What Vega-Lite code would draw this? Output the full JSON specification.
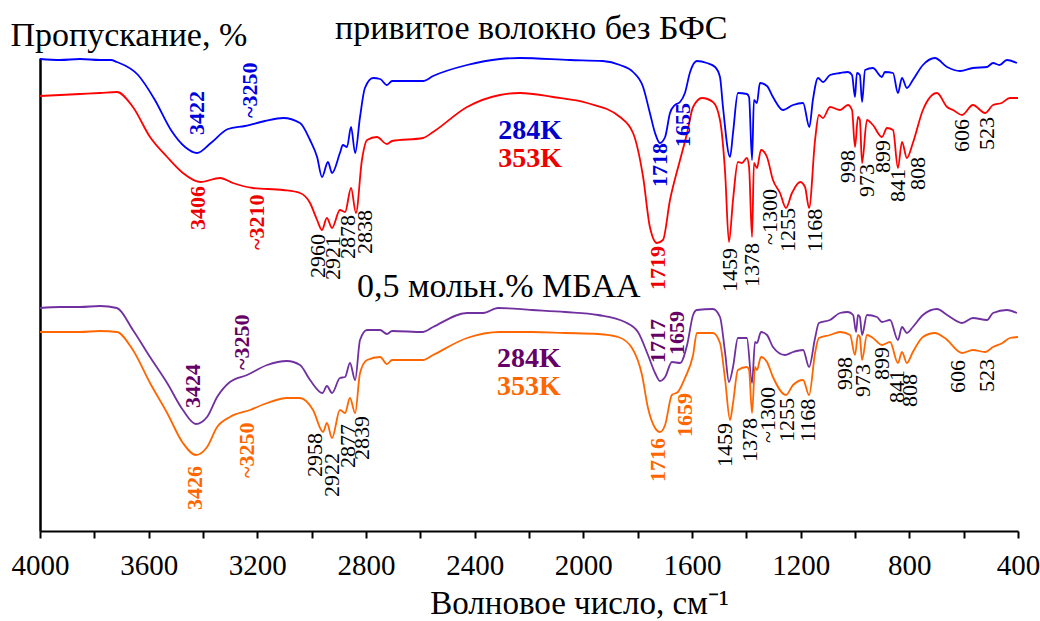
{
"$schema": "https://vega.github.io/schema/vega-lite/v6.json",
"width": 978, "height": 473,
"autosize": {"type": "none"},
"padding": {"left": 40, "top": 58, "right": 22, "bottom": 90},
"background": "white",
"config": {"view": {"stroke": null}, "font": "Times New Roman, Liberation Serif, serif"},
"resolve": {"scale": {"color": "independent"}},
"datasets": {
"spec": [
{"s":"b","wn":4000,"T":472},{"s":"b","wn":3926,"T":471},{"s":"b","wn":3853,"T":472},{"s":"b","wn":3779,"T":471},{"s":"b","wn":3739,"T":471},{"s":"b","wn":3717,"T":469},{"s":"b","wn":3639,"T":456},{"s":"b","wn":3577,"T":431},{"s":"b","wn":3518,"T":401},{"s":"b","wn":3466,"T":384},{"s":"b","wn":3422,"T":378},{"s":"b","wn":3371,"T":388},{"s":"b","wn":3308,"T":402},{"s":"b","wn":3245,"T":405},{"s":"b","wn":3172,"T":410},{"s":"b","wn":3105,"T":413},{"s":"b","wn":3043,"T":408},{"s":"b","wn":3006,"T":391},{"s":"b","wn":2980,"T":374},{"s":"b","wn":2962,"T":354},{"s":"b","wn":2940,"T":369},{"s":"b","wn":2925,"T":358},{"s":"b","wn":2896,"T":378},{"s":"b","wn":2885,"T":386},{"s":"b","wn":2870,"T":384},{"s":"b","wn":2855,"T":404},{"s":"b","wn":2840,"T":378},{"s":"b","wn":2822,"T":414},{"s":"b","wn":2804,"T":443},{"s":"b","wn":2774,"T":453},{"s":"b","wn":2748,"T":452},{"s":"b","wn":2723,"T":446},{"s":"b","wn":2704,"T":450},{"s":"b","wn":2590,"T":450},{"s":"b","wn":2553,"T":455},{"s":"b","wn":2428,"T":466},{"s":"b","wn":2307,"T":472},{"s":"b","wn":2233,"T":473},{"s":"b","wn":2049,"T":471},{"s":"b","wn":1928,"T":470},{"s":"b","wn":1865,"T":466},{"s":"b","wn":1817,"T":459},{"s":"b","wn":1780,"T":444},{"s":"b","wn":1755,"T":418},{"s":"b","wn":1736,"T":398},{"s":"b","wn":1718,"T":388},{"s":"b","wn":1699,"T":394},{"s":"b","wn":1681,"T":418},{"s":"b","wn":1663,"T":426},{"s":"b","wn":1644,"T":429},{"s":"b","wn":1626,"T":438},{"s":"b","wn":1607,"T":459},{"s":"b","wn":1582,"T":470},{"s":"b","wn":1545,"T":468},{"s":"b","wn":1515,"T":464},{"s":"b","wn":1497,"T":454},{"s":"b","wn":1486,"T":424},{"s":"b","wn":1460,"T":374},{"s":"b","wn":1449,"T":398},{"s":"b","wn":1431,"T":438},{"s":"b","wn":1398,"T":437},{"s":"b","wn":1390,"T":434},{"s":"b","wn":1379,"T":371},{"s":"b","wn":1372,"T":431},{"s":"b","wn":1361,"T":428},{"s":"b","wn":1350,"T":448},{"s":"b","wn":1324,"T":445},{"s":"b","wn":1302,"T":434},{"s":"b","wn":1265,"T":421},{"s":"b","wn":1228,"T":426},{"s":"b","wn":1191,"T":428},{"s":"b","wn":1168,"T":404},{"s":"b","wn":1155,"T":431},{"s":"b","wn":1136,"T":453},{"s":"b","wn":1118,"T":449},{"s":"b","wn":1092,"T":456},{"s":"b","wn":1055,"T":458},{"s":"b","wn":1026,"T":459},{"s":"b","wn":1011,"T":456},{"s":"b","wn":1000,"T":434},{"s":"b","wn":993,"T":458},{"s":"b","wn":982,"T":456},{"s":"b","wn":974,"T":429},{"s":"b","wn":963,"T":461},{"s":"b","wn":934,"T":463},{"s":"b","wn":901,"T":454},{"s":"b","wn":890,"T":459},{"s":"b","wn":860,"T":458},{"s":"b","wn":842,"T":438},{"s":"b","wn":827,"T":453},{"s":"b","wn":809,"T":443},{"s":"b","wn":787,"T":451},{"s":"b","wn":750,"T":466},{"s":"b","wn":706,"T":473},{"s":"b","wn":661,"T":464},{"s":"b","wn":613,"T":460},{"s":"b","wn":566,"T":463},{"s":"b","wn":514,"T":464},{"s":"b","wn":492,"T":468},{"s":"b","wn":468,"T":466},{"s":"b","wn":441,"T":471},{"s":"b","wn":404,"T":468},
{"s":"r","wn":4000,"T":435},{"s":"r","wn":3926,"T":436},{"s":"r","wn":3853,"T":437},{"s":"r","wn":3779,"T":438},{"s":"r","wn":3717,"T":439},{"s":"r","wn":3658,"T":424},{"s":"r","wn":3595,"T":394},{"s":"r","wn":3532,"T":374},{"s":"r","wn":3474,"T":358},{"s":"r","wn":3410,"T":349},{"s":"r","wn":3337,"T":353},{"s":"r","wn":3290,"T":348},{"s":"r","wn":3216,"T":343},{"s":"r","wn":3105,"T":341},{"s":"r","wn":3043,"T":338},{"s":"r","wn":3006,"T":328},{"s":"r","wn":2980,"T":311},{"s":"r","wn":2962,"T":301},{"s":"r","wn":2944,"T":313},{"s":"r","wn":2925,"T":303},{"s":"r","wn":2896,"T":321},{"s":"r","wn":2877,"T":319},{"s":"r","wn":2855,"T":343},{"s":"r","wn":2837,"T":318},{"s":"r","wn":2815,"T":371},{"s":"r","wn":2796,"T":391},{"s":"r","wn":2760,"T":394},{"s":"r","wn":2723,"T":387},{"s":"r","wn":2704,"T":390},{"s":"r","wn":2590,"T":393},{"s":"r","wn":2553,"T":399},{"s":"r","wn":2428,"T":424},{"s":"r","wn":2307,"T":436},{"s":"r","wn":2233,"T":438},{"s":"r","wn":2112,"T":434},{"s":"r","wn":1986,"T":428},{"s":"r","wn":1865,"T":414},{"s":"r","wn":1817,"T":398},{"s":"r","wn":1780,"T":354},{"s":"r","wn":1755,"T":304},{"s":"r","wn":1729,"T":288},{"s":"r","wn":1707,"T":291},{"s":"r","wn":1681,"T":331},{"s":"r","wn":1644,"T":371},{"s":"r","wn":1618,"T":398},{"s":"r","wn":1596,"T":424},{"s":"r","wn":1563,"T":433},{"s":"r","wn":1523,"T":429},{"s":"r","wn":1497,"T":411},{"s":"r","wn":1478,"T":358},{"s":"r","wn":1464,"T":289},{"s":"r","wn":1449,"T":331},{"s":"r","wn":1431,"T":369},{"s":"r","wn":1416,"T":368},{"s":"r","wn":1398,"T":373},{"s":"r","wn":1390,"T":364},{"s":"r","wn":1379,"T":294},{"s":"r","wn":1372,"T":368},{"s":"r","wn":1361,"T":363},{"s":"r","wn":1346,"T":381},{"s":"r","wn":1324,"T":374},{"s":"r","wn":1302,"T":351},{"s":"r","wn":1276,"T":338},{"s":"r","wn":1254,"T":323},{"s":"r","wn":1232,"T":338},{"s":"r","wn":1202,"T":349},{"s":"r","wn":1184,"T":344},{"s":"r","wn":1169,"T":323},{"s":"r","wn":1147,"T":391},{"s":"r","wn":1133,"T":416},{"s":"r","wn":1118,"T":413},{"s":"r","wn":1092,"T":424},{"s":"r","wn":1055,"T":421},{"s":"r","wn":1026,"T":426},{"s":"r","wn":1011,"T":421},{"s":"r","wn":1000,"T":384},{"s":"r","wn":989,"T":414},{"s":"r","wn":982,"T":411},{"s":"r","wn":974,"T":368},{"s":"r","wn":956,"T":411},{"s":"r","wn":934,"T":406},{"s":"r","wn":901,"T":394},{"s":"r","wn":882,"T":403},{"s":"r","wn":860,"T":401},{"s":"r","wn":842,"T":363},{"s":"r","wn":827,"T":389},{"s":"r","wn":809,"T":373},{"s":"r","wn":787,"T":388},{"s":"r","wn":750,"T":421},{"s":"r","wn":698,"T":438},{"s":"r","wn":661,"T":424},{"s":"r","wn":639,"T":421},{"s":"r","wn":606,"T":416},{"s":"r","wn":566,"T":426},{"s":"r","wn":521,"T":418},{"s":"r","wn":492,"T":426},{"s":"r","wn":460,"T":428},{"s":"r","wn":430,"T":433},{"s":"r","wn":400,"T":433},
{"s":"p","wn":4000,"T":223},{"s":"p","wn":3926,"T":224},{"s":"p","wn":3853,"T":224},{"s":"p","wn":3779,"T":225},{"s":"p","wn":3717,"T":223},{"s":"p","wn":3658,"T":201},{"s":"p","wn":3595,"T":174},{"s":"p","wn":3532,"T":148},{"s":"p","wn":3474,"T":121},{"s":"p","wn":3426,"T":107},{"s":"p","wn":3385,"T":114},{"s":"p","wn":3348,"T":134},{"s":"p","wn":3301,"T":149},{"s":"p","wn":3238,"T":156},{"s":"p","wn":3164,"T":166},{"s":"p","wn":3091,"T":170},{"s":"p","wn":3043,"T":166},{"s":"p","wn":3006,"T":151},{"s":"p","wn":2960,"T":138},{"s":"p","wn":2944,"T":145},{"s":"p","wn":2925,"T":138},{"s":"p","wn":2896,"T":153},{"s":"p","wn":2877,"T":154},{"s":"p","wn":2859,"T":168},{"s":"p","wn":2840,"T":151},{"s":"p","wn":2822,"T":191},{"s":"p","wn":2796,"T":201},{"s":"p","wn":2748,"T":201},{"s":"p","wn":2723,"T":197},{"s":"p","wn":2704,"T":200},{"s":"p","wn":2590,"T":199},{"s":"p","wn":2553,"T":204},{"s":"p","wn":2428,"T":218},{"s":"p","wn":2369,"T":218},{"s":"p","wn":2314,"T":223},{"s":"p","wn":2189,"T":221},{"s":"p","wn":2067,"T":219},{"s":"p","wn":1946,"T":216},{"s":"p","wn":1847,"T":209},{"s":"p","wn":1799,"T":199},{"s":"p","wn":1762,"T":176},{"s":"p","wn":1736,"T":158},{"s":"p","wn":1718,"T":150},{"s":"p","wn":1699,"T":154},{"s":"p","wn":1674,"T":169},{"s":"p","wn":1644,"T":168},{"s":"p","wn":1618,"T":186},{"s":"p","wn":1596,"T":216},{"s":"p","wn":1582,"T":221},{"s":"p","wn":1523,"T":222},{"s":"p","wn":1497,"T":214},{"s":"p","wn":1478,"T":178},{"s":"p","wn":1464,"T":149},{"s":"p","wn":1449,"T":164},{"s":"p","wn":1431,"T":193},{"s":"p","wn":1398,"T":193},{"s":"p","wn":1379,"T":148},{"s":"p","wn":1368,"T":189},{"s":"p","wn":1361,"T":188},{"s":"p","wn":1346,"T":199},{"s":"p","wn":1324,"T":196},{"s":"p","wn":1302,"T":184},{"s":"p","wn":1258,"T":176},{"s":"p","wn":1228,"T":179},{"s":"p","wn":1191,"T":181},{"s":"p","wn":1169,"T":164},{"s":"p","wn":1147,"T":193},{"s":"p","wn":1133,"T":208},{"s":"p","wn":1092,"T":211},{"s":"p","wn":1055,"T":218},{"s":"p","wn":1026,"T":219},{"s":"p","wn":1007,"T":216},{"s":"p","wn":996,"T":199},{"s":"p","wn":989,"T":216},{"s":"p","wn":982,"T":214},{"s":"p","wn":974,"T":196},{"s":"p","wn":956,"T":216},{"s":"p","wn":919,"T":214},{"s":"p","wn":901,"T":209},{"s":"p","wn":871,"T":211},{"s":"p","wn":842,"T":191},{"s":"p","wn":827,"T":204},{"s":"p","wn":809,"T":198},{"s":"p","wn":787,"T":204},{"s":"p","wn":750,"T":216},{"s":"p","wn":698,"T":222},{"s":"p","wn":661,"T":216},{"s":"p","wn":606,"T":208},{"s":"p","wn":566,"T":213},{"s":"p","wn":514,"T":211},{"s":"p","wn":492,"T":218},{"s":"p","wn":441,"T":221},{"s":"p","wn":404,"T":218},
{"s":"o","wn":4000,"T":199},{"s":"o","wn":3926,"T":199},{"s":"o","wn":3853,"T":199},{"s":"o","wn":3779,"T":200},{"s":"o","wn":3717,"T":199},{"s":"o","wn":3658,"T":181},{"s":"o","wn":3595,"T":148},{"s":"o","wn":3532,"T":118},{"s":"o","wn":3474,"T":88},{"s":"o","wn":3426,"T":76},{"s":"o","wn":3385,"T":84},{"s":"o","wn":3348,"T":104},{"s":"o","wn":3301,"T":114},{"s":"o","wn":3227,"T":121},{"s":"o","wn":3164,"T":128},{"s":"o","wn":3091,"T":133},{"s":"o","wn":3043,"T":133},{"s":"o","wn":2995,"T":121},{"s":"o","wn":2958,"T":99},{"s":"o","wn":2944,"T":108},{"s":"o","wn":2925,"T":93},{"s":"o","wn":2896,"T":121},{"s":"o","wn":2877,"T":118},{"s":"o","wn":2859,"T":133},{"s":"o","wn":2840,"T":118},{"s":"o","wn":2822,"T":158},{"s":"o","wn":2796,"T":171},{"s":"o","wn":2748,"T":174},{"s":"o","wn":2723,"T":167},{"s":"o","wn":2704,"T":171},{"s":"o","wn":2590,"T":171},{"s":"o","wn":2553,"T":176},{"s":"o","wn":2428,"T":193},{"s":"o","wn":2307,"T":199},{"s":"o","wn":2189,"T":199},{"s":"o","wn":2067,"T":198},{"s":"o","wn":1946,"T":197},{"s":"o","wn":1872,"T":194},{"s":"o","wn":1821,"T":183},{"s":"o","wn":1784,"T":156},{"s":"o","wn":1762,"T":123},{"s":"o","wn":1736,"T":103},{"s":"o","wn":1718,"T":99},{"s":"o","wn":1699,"T":106},{"s":"o","wn":1674,"T":136},{"s":"o","wn":1652,"T":139},{"s":"o","wn":1626,"T":153},{"s":"o","wn":1596,"T":176},{"s":"o","wn":1582,"T":198},{"s":"o","wn":1523,"T":198},{"s":"o","wn":1497,"T":188},{"s":"o","wn":1478,"T":151},{"s":"o","wn":1460,"T":111},{"s":"o","wn":1449,"T":128},{"s":"o","wn":1431,"T":161},{"s":"o","wn":1398,"T":164},{"s":"o","wn":1390,"T":161},{"s":"o","wn":1379,"T":118},{"s":"o","wn":1368,"T":164},{"s":"o","wn":1361,"T":161},{"s":"o","wn":1346,"T":174},{"s":"o","wn":1324,"T":169},{"s":"o","wn":1302,"T":154},{"s":"o","wn":1254,"T":136},{"s":"o","wn":1228,"T":146},{"s":"o","wn":1191,"T":151},{"s":"o","wn":1169,"T":136},{"s":"o","wn":1147,"T":178},{"s":"o","wn":1133,"T":193},{"s":"o","wn":1092,"T":196},{"s":"o","wn":1055,"T":199},{"s":"o","wn":1018,"T":196},{"s":"o","wn":1000,"T":176},{"s":"o","wn":989,"T":196},{"s":"o","wn":982,"T":194},{"s":"o","wn":974,"T":171},{"s":"o","wn":956,"T":196},{"s":"o","wn":934,"T":193},{"s":"o","wn":901,"T":186},{"s":"o","wn":871,"T":189},{"s":"o","wn":842,"T":168},{"s":"o","wn":827,"T":179},{"s":"o","wn":809,"T":168},{"s":"o","wn":787,"T":179},{"s":"o","wn":750,"T":194},{"s":"o","wn":706,"T":198},{"s":"o","wn":669,"T":193},{"s":"o","wn":606,"T":178},{"s":"o","wn":566,"T":181},{"s":"o","wn":521,"T":179},{"s":"o","wn":492,"T":184},{"s":"o","wn":457,"T":188},{"s":"o","wn":430,"T":193},{"s":"o","wn":400,"T":194}
],
"lb": [
{"wn":3422,"T":396,"t":"3422","c":"#0000dd"},{"wn":3227,"T":413,"t":"~3250","c":"#0000dd"},{"wn":1718,"T":344,"t":"1718","c":"#0000dd"},{"wn":1633,"T":384,"t":"1655","c":"#0000dd"},
{"wn":3418,"T":301,"t":"3406","c":"#ee0000"},{"wn":3201,"T":281,"t":"~3210","c":"#ee0000"},{"wn":1725,"T":241,"t":"1719","c":"#ee0000"},
{"wn":3437,"T":123,"t":"3424","c":"#660066"},{"wn":3256,"T":161,"t":"~3250","c":"#660066"},{"wn":1725,"T":168,"t":"1717","c":"#660066"},{"wn":1655,"T":176,"t":"1659","c":"#660066"},
{"wn":3429,"T":21,"t":"3426","c":"#ff6600"},{"wn":3238,"T":53,"t":"~3250","c":"#ff6600"},{"wn":1725,"T":49,"t":"1716","c":"#ff6600"},{"wn":1626,"T":94,"t":"1659","c":"#ff6600"}
],
"ln": [
{"wn":2977,"T":253,"t":"2960"},{"wn":2921,"T":251,"t":"2921"},{"wn":2866,"T":272,"t":"2878"},{"wn":2804,"T":277,"t":"2838"},{"wn":1460,"T":239,"t":"1459"},{"wn":1379,"T":244,"t":"1378"},{"wn":1313,"T":286,"t":"~1300"},{"wn":1247,"T":279,"t":"1255"},{"wn":1147,"T":279,"t":"1168"},{"wn":1026,"T":348,"t":"998"},{"wn":956,"T":334,"t":"973"},{"wn":897,"T":358,"t":"899"},{"wn":842,"T":329,"t":"841"},{"wn":768,"T":341,"t":"808"},{"wn":606,"T":379,"t":"606"},{"wn":514,"T":381,"t":"523"},
{"wn":2988,"T":54,"t":"2958"},{"wn":2925,"T":34,"t":"2922"},{"wn":2866,"T":63,"t":"2877"},{"wn":2815,"T":71,"t":"2839"},{"wn":1478,"T":64,"t":"1459"},{"wn":1386,"T":69,"t":"1378"},{"wn":1320,"T":88,"t":"~1300"},{"wn":1250,"T":89,"t":"1255"},{"wn":1173,"T":89,"t":"1168"},{"wn":1037,"T":141,"t":"998"},{"wn":971,"T":134,"t":"973"},{"wn":901,"T":151,"t":"899"},{"wn":845,"T":128,"t":"841"},{"wn":798,"T":124,"t":"808"},{"wn":621,"T":138,"t":"606"},{"wn":514,"T":139,"t":"523"}
],
"ttl": [
{"wn":2914,"T":492,"t":"привитое волокно без БФС"},{"wn":2833,"T":234,"t":"0,5 мольн.% МБАА"}
],
"tmp": [
{"wn":2196,"T":392,"t":"284K","c":"#0000cc"},{"wn":2196,"T":364,"t":"353K","c":"#ee0000"},{"wn":2200,"T":164,"t":"284K","c":"#660066"},{"wn":2200,"T":136,"t":"353K","c":"#ff6600"}
]
},
"encoding": {
"x": {"field": "wn", "type": "quantitative",
 "scale": {"domain": [400, 4000], "reverse": true, "nice": false, "zero": false},
 "axis": {"values": [4000,3800,3600,3400,3200,3000,2800,2600,2400,2200,2000,1800,1600,1400,1200,1000,800,600,400],
  "format": "d", "labelExpr": "datum.value % 400 === 0 ? datum.label : ''",
  "labelFont": "Times New Roman, Liberation Serif, serif", "labelFontSize": 29, "labelColor": "black", "labelPadding": 13, "labelFlush": false, "labelOverlap": false,
  "tickSize": 7, "tickWidth": 2, "tickColor": "black", "domainColor": "black", "domainWidth": 2, "grid": false,
  "title": "Волновое число, см⁻¹", "titleFont": "Times New Roman, Liberation Serif, serif", "titleFontSize": 33, "titleFontWeight": "normal", "titleColor": "black",
  "titleX": 539, "titleY": 82, "titleAlign": "center", "titleBaseline": "alphabetic"}},
"y": {"field": "T", "type": "quantitative",
 "scale": {"domain": [0, 473], "nice": false, "zero": false},
 "axis": {"ticks": false, "labels": false, "grid": false, "domainColor": "black", "domainWidth": 2.5,
  "title": "Пропускание, %", "titleAngle": 0, "titleX": -30, "titleY": -13, "titleAlign": "left", "titleBaseline": "alphabetic",
  "titleFont": "Times New Roman, Liberation Serif, serif", "titleFontSize": 34, "titleFontWeight": "normal", "titleColor": "black"}}
},
"layer": [
{"data": {"name": "spec"}, "mark": {"type": "line", "strokeWidth": 1.8, "clip": false, "interpolate": "monotone"},
 "encoding": {"color": {"field": "s", "type": "nominal", "scale": {"domain": ["b","r","p","o"], "range": ["#0000ff","#ff0000","#7030a0","#ff6600"]}, "legend": null}}},
{"data": {"name": "lb"}, "mark": {"type": "text", "angle": 270, "align": "left", "baseline": "middle", "font": "Times New Roman, Liberation Serif, serif", "fontSize": 22, "fontWeight": "bold"},
 "encoding": {"text": {"field": "t"}, "color": {"field": "c", "type": "nominal", "scale": null}}},
{"data": {"name": "ln"}, "mark": {"type": "text", "angle": 270, "align": "left", "baseline": "middle", "font": "Times New Roman, Liberation Serif, serif", "fontSize": 22, "color": "black"},
 "encoding": {"text": {"field": "t"}}},
{"data": {"name": "ttl"}, "mark": {"type": "text", "align": "left", "baseline": "alphabetic", "font": "Times New Roman, Liberation Serif, serif", "fontSize": 34, "color": "black"},
 "encoding": {"text": {"field": "t"}}},
{"data": {"name": "tmp"}, "mark": {"type": "text", "align": "center", "baseline": "alphabetic", "font": "Times New Roman, Liberation Serif, serif", "fontSize": 28, "fontWeight": "bold"},
 "encoding": {"text": {"field": "t"}, "color": {"field": "c", "type": "nominal", "scale": null}}}
]
}
